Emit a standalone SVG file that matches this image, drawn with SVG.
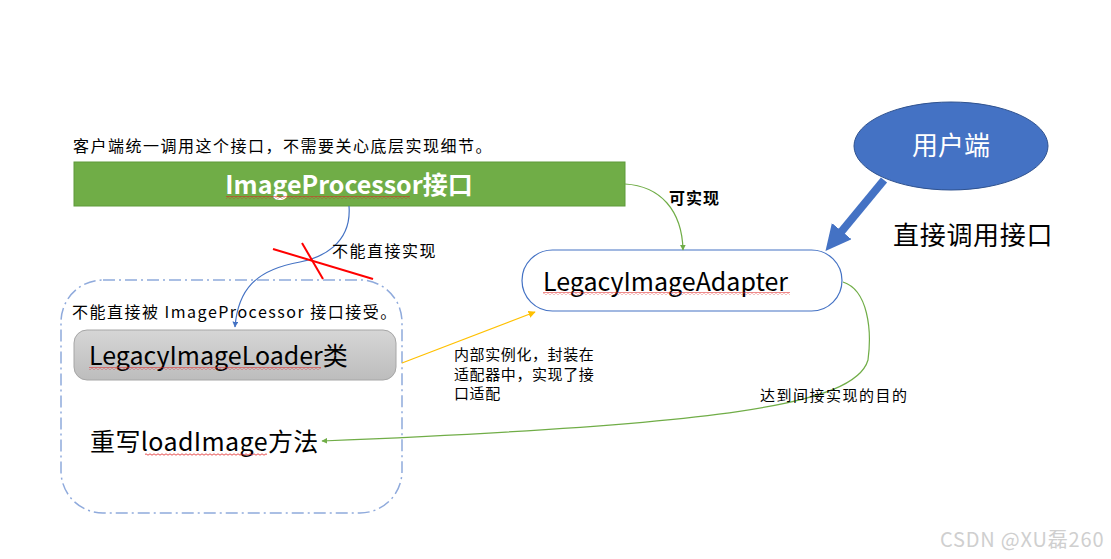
<svg xmlns="http://www.w3.org/2000/svg" width="1111" height="559" viewBox="0 0 1111 559">
<style>
text{font-family:"Noto Sans CJK SC","Microsoft YaHei","Noto Sans",sans-serif;fill:#000}
.s15{font-size:16px;letter-spacing:1.5px}
.s15n{font-size:15px;letter-spacing:0.6px}
.big{font-size:25px}
</style>
<defs>
<linearGradient id="gray" x1="0" y1="0" x2="0" y2="1">
<stop offset="0" stop-color="#D6D6D6"/>
<stop offset="1" stop-color="#BDBDBD"/>
</linearGradient>
<pattern id="wave" x="0" y="0" width="4" height="3" patternUnits="userSpaceOnUse">
<path d="M0,2.2 L2,0.8 L4,2.2" fill="none" stroke="#E02020" stroke-width="0.8"/>
</pattern>
<marker id="aBlue" viewBox="0 0 10 10" refX="9" refY="5" markerWidth="5" markerHeight="5" orient="auto"><path d="M0,0 L10,5 L0,10 z" fill="#4472C4"/></marker>
<marker id="aGreen" viewBox="0 0 10 10" refX="9" refY="5" markerWidth="5" markerHeight="5" orient="auto"><path d="M0,0 L10,5 L0,10 z" fill="#70AD47"/></marker>
<marker id="aYellow" viewBox="0 0 10 10" refX="9" refY="5" markerWidth="6" markerHeight="6" orient="auto"><path d="M0,0 L10,5 L0,10 z" fill="#FFC000"/></marker>
<marker id="aThick" viewBox="0 0 10 10" refX="6" refY="5" markerWidth="3.2" markerHeight="3.2" orient="auto"><path d="M0,0 L10,5 L0,10 z" fill="#4472C4"/></marker>
</defs>

<text class="s15" x="73" y="152">客户端统一调用这个接口，不需要关心底层实现细节。</text>

<g id="container">
<rect x="61" y="280" width="341" height="233" rx="42" fill="none" stroke="#8FAADC" stroke-width="1.5" stroke-dasharray="12,4,2,4"/>
<text class="s15" x="72" y="318">不能直接被 ImageProcessor 接口接受。</text>
</g>

<g id="imageProcessor">
<rect x="74" y="162" width="551" height="44" fill="#70AD47" stroke="#5E9A3A" stroke-width="1"/>
<text x="349" y="194" text-anchor="middle" font-size="25" font-weight="bold" style="fill:#fff">ImageProcessor接口</text>
<rect x="226" y="196" width="184" height="3" fill="url(#wave)"/>
</g>

<g id="legacyLoader">
<rect x="74" y="330" width="322" height="50" rx="13" fill="url(#gray)" stroke="#A6A6A6" stroke-width="1"/>
<text class="big" x="89" y="365">LegacyImageLoader类</text>
<rect x="89" y="367" width="232" height="3" fill="url(#wave)"/>
</g>

<g id="overrideMethod">
<text class="big" x="90" y="451" letter-spacing="0.4">重写loadImage方法</text>
<rect x="145" y="453" width="122" height="3" fill="url(#wave)"/>
</g>

<g id="adapter">
<rect x="522" y="250" width="320" height="61" rx="30.5" fill="#fff" stroke="#4472C4" stroke-width="1.2"/>
<text x="543" y="291" font-size="25">LegacyImageAdapter</text>
<rect x="543" y="292" width="247" height="3" fill="url(#wave)"/>
</g>

<g id="client">
<ellipse cx="951" cy="146" rx="97" ry="44" fill="#4472C4" stroke="#2F528F" stroke-width="1"/>
<text x="951" y="155" text-anchor="middle" font-size="26" style="fill:#fff">用户端</text>
</g>

<g id="connectors">
<path d="M349,206 C352,245 320,258 300,262 C255,270 238,290 235,327" fill="none" stroke="#4472C4" stroke-width="1.2" marker-end="url(#aBlue)"/>
<line x1="273" y1="249" x2="373" y2="279" stroke="#FF0000" stroke-width="2"/>
<line x1="302" y1="243" x2="323" y2="279" stroke="#FF0000" stroke-width="2"/>
<path d="M625,184 C660,186 682,210 683,250" fill="none" stroke="#70AD47" stroke-width="1.2" marker-end="url(#aGreen)"/>
<line x1="402" y1="363" x2="535" y2="312" stroke="#FFC000" stroke-width="1.2" marker-end="url(#aYellow)"/>
<path d="M843,282 C868,290 872,330 868,360 C855,405 720,425 322,441" fill="none" stroke="#70AD47" stroke-width="1.2" marker-end="url(#aGreen)"/>
<line x1="884" y1="180" x2="832" y2="243" stroke="#4472C4" stroke-width="8" marker-end="url(#aThick)"/>
</g>

<g id="labels">
<text class="s15" x="332" y="257">不能直接实现</text>
<text x="669" y="204" font-size="16" font-weight="bold" letter-spacing="1">可实现</text>
<text class="s15n" x="454" y="360">内部实例化，封装在</text>
<text class="s15n" x="454" y="380">适配器中，实现了接</text>
<text class="s15n" x="454" y="399">口适配</text>
<text x="760" y="401" font-size="15" letter-spacing="1.5">达到间接实现的目的</text>
<text x="893" y="245" font-size="26" letter-spacing="0.7">直接调用接口</text>
</g>

<text x="940" y="547" font-size="20" letter-spacing="0.8" font-family="Liberation Sans, sans-serif" style="fill:#cfcfcf">CSDN @XU磊260</text>
</svg>
